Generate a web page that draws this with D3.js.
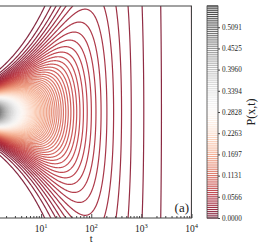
<!DOCTYPE html>
<html>
<head>
<meta charset="utf-8">
<script src="https://cdn.jsdelivr.net/npm/d3@7"></script>
<style>
  body { margin: 0; background: #fff; }
  svg { display: block; }
  text { font-family: "Liberation Serif", "DejaVu Serif", serif; fill: #222; }
</style>
</head>
<body>
<svg width="263" height="243"></svg>
<script>
// values
const tDomain = [1, 1e4];
const tTicks = [1e1, 1e2, 1e3, 1e4];
const tTickExp = ["1", "2", "3", "4"];
const xDomain = [-2 * Math.PI, 2 * Math.PI];
const pRange = [0, 0.5657];
const levelCount = [101];
const cbarTicks = [0.0000, 0.0566, 0.1131, 0.1697, 0.2263, 0.2828, 0.3394, 0.3960, 0.4525, 0.5091];
// model field P(x,t) = exp(-x^2/(4Dt)) / sqrt(4 pi D t), D fitted to the picture
const diffCoef = [0.25];

const svg = d3.select("svg");
const plot = { left: -9, right: 191.5, top: 6, bottom: 218 };
const cbar = { left: 207, right: 218 };

const x = d3.scaleLog().domain(tDomain).range([plot.left, plot.right]);
const y = d3.scaleLinear().domain(xDomain).range([plot.bottom, plot.top]);
const color = v => d3.interpolateRdGy(v / pRange[1]);

const levels = d3.range(levelCount[0]).map(i => pRange[0] + i * (pRange[1] - pRange[0]) / (levelCount[0] - 1));

// grid, a little wider than the axes so every contour outline falls outside the clip
const nx = 440, ny = 460;
const lt0 = -0.05, lt1 = 4.05;
const xa = xDomain[0] * 1.04, xb = xDomain[1] * 1.04;
const D = diffCoef[0];
const values = new Float64Array(nx * ny);
for (let j = 0; j < ny; j++) {
  const xv = xb - j / (ny - 1) * (xb - xa);
  for (let i = 0; i < nx; i++) {
    const t = Math.pow(10, lt0 + i / (nx - 1) * (lt1 - lt0));
    values[j * nx + i] = Math.exp(-xv * xv / (4 * D * t)) / Math.sqrt(4 * Math.PI * D * t);
  }
}

const gi = d3.scaleLinear().domain([0, nx - 1]).range([lt0, lt1]);
const gj = d3.scaleLinear().domain([0, ny - 1]).range([xb, xa]);
const path = d3.geoPath(d3.geoTransform({
  point(px, py) { this.stream.point(x(Math.pow(10, gi(px))), y(gj(py))); }
}));

const contours = d3.contours().size([nx, ny]).thresholds(levels.slice(1))(values);

svg.append("defs").append("clipPath").attr("id", "clip")
  .append("rect")
  .attr("x", plot.left).attr("y", plot.top)
  .attr("width", plot.right - plot.left).attr("height", plot.bottom - plot.top);

svg.append("g").attr("clip-path", "url(#clip)")
  .selectAll("path")
  .data(contours)
  .join("path")
  .attr("d", path)
  .attr("fill", "none")
  .attr("stroke", d => color(d.value))
  .attr("stroke-opacity", 0.85)
  .attr("stroke-width", 1.2);

// frame
svg.append("rect")
  .attr("x", plot.left).attr("y", plot.top)
  .attr("width", plot.right - plot.left).attr("height", plot.bottom - plot.top)
  .attr("fill", "none").attr("stroke", "#444").attr("stroke-width", 1);

// bottom axis, ticks pointing in
const minor = [];
for (let e = 0; e < 4; e++) for (let m = 2; m < 10; m++) minor.push(m * Math.pow(10, e));

const axis = svg.append("g").attr("transform", `translate(0,${plot.bottom})`);
axis.call(d3.axisBottom(x).tickValues(minor).tickSize(-2).tickFormat(""))
  .call(g => g.select(".domain").remove());
const axisMajor = svg.append("g").attr("transform", `translate(0,${plot.bottom})`);
axisMajor.call(d3.axisBottom(x).tickValues(tTicks).tickSize(-4).tickFormat(""))
  .call(g => g.select(".domain").remove());
svg.selectAll(".tick line").attr("stroke", "#444");

tTicks.forEach((t, i) => {
  const txt = svg.append("text")
    .attr("x", x(t)).attr("y", 232)
    .attr("text-anchor", "middle")
    .attr("font-size", 9.5);
  txt.append("tspan").text("10");
  txt.append("tspan").attr("dy", -4.5).attr("font-size", 6.5).text(tTickExp[i]);
});

svg.append("text")
  .attr("x", (plot.left + plot.right) / 2).attr("y", 241.5)
  .attr("text-anchor", "middle")
  .attr("font-size", 10.5)
  .text("t");

svg.append("text")
  .attr("x", 189).attr("y", 212)
  .attr("text-anchor", "end")
  .attr("font-size", 13)
  .text("(a)");

// colorbar: one line per level
const cy = d3.scaleLinear().domain(pRange).range([plot.bottom, plot.top]);
svg.append("g")
  .selectAll("line")
  .data(levels)
  .join("line")
  .attr("x1", cbar.left).attr("x2", cbar.right)
  .attr("y1", d => cy(d)).attr("y2", d => cy(d))
  .attr("stroke", d => color(d))
  .attr("stroke-opacity", 0.85)
  .attr("stroke-width", 1.2);

svg.append("rect")
  .attr("x", cbar.left).attr("y", plot.top)
  .attr("width", cbar.right - cbar.left).attr("height", plot.bottom - plot.top)
  .attr("fill", "none").attr("stroke", "#444").attr("stroke-width", 0.8);

const cax = svg.append("g").attr("transform", `translate(${cbar.right},0)`);
cax.call(d3.axisRight(cy).tickValues(cbarTicks).tickSize(2).tickPadding(2).tickFormat(d3.format(".4f")))
  .call(g => g.select(".domain").remove());
cax.selectAll(".tick line").attr("stroke", "#444");
cax.selectAll(".tick text")
  .attr("font-family", '"Liberation Serif", serif')
  .attr("font-size", 7.2)
  .attr("fill", "#222");

svg.append("text")
  .attr("transform", `translate(255,${(plot.top + plot.bottom) / 2}) rotate(-90)`)
  .attr("text-anchor", "middle")
  .attr("font-size", 12)
  .text("P(x,t)");
</script>
</body>
</html>
